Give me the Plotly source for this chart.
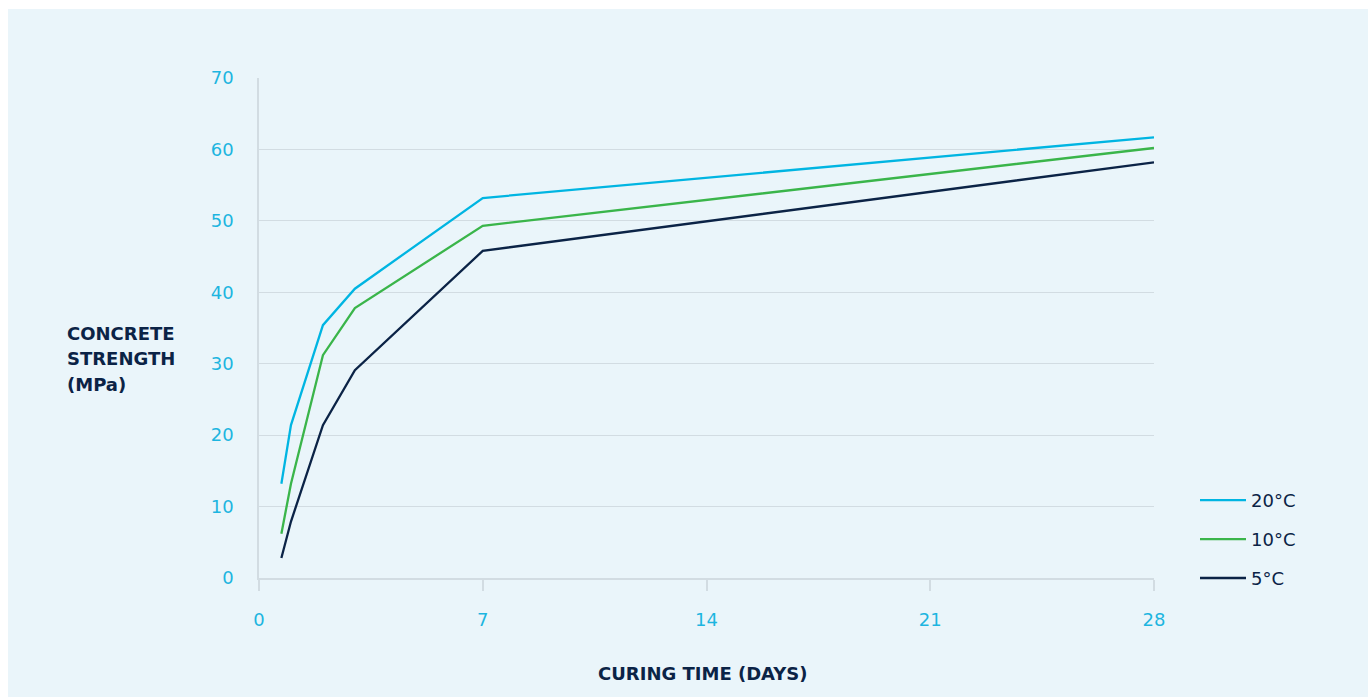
import plotly.graph_objects as go

# Curing age (days) and compressive strength (MPa) at three curing temperatures
days = [0.7, 1, 2, 3, 7, 28]
strength_20c = [13.2, 21.4, 35.4, 40.5, 53.2, 61.7]
strength_10c = [6.2, 13.2, 31.2, 37.8, 49.3, 60.2]
strength_5c = [2.8, 7.9, 21.4, 29.1, 45.8, 58.2]

series_names = ["20°C", "10°C", "5°C"]
series_colors = ["#00B5E2", "#3AB54A", "#0B2346"]

x_ticks = [0, 7, 14, 21, 28]
y_ticks = [0, 10, 20, 30, 40, 50, 60, 70]

y_title_lines = ["CONCRETE", "STRENGTH", "(MPa)"]
x_title = "CURING TIME (DAYS)"

W, H = 1372, 697
L, R, T, B = 259, 218, 78, 119
plot_w = W - L - R
plot_h = H - T - B

def px_x(p):
    return (p - L) / plot_w

def px_y(p):
    return (H - B - p) / plot_h

PANEL = "#EAF5FA"
GRID = "#D2DCE2"
TICK_COLOR = "#1DB5E0"
NAVY = "#0B2346"
FONT = "DejaVu Sans, Open Sans, sans-serif"

fig = go.Figure()
for i, (name, vals) in enumerate(zip(series_names, [strength_20c, strength_10c, strength_5c])):
    fig.add_trace(go.Scatter(
        x=days, y=vals, mode="lines", name=name,
        line=dict(color=series_colors[i], width=2.3),
        legendgroup=name,
    ))

# Left-aligned, three-line y-axis title
annotations = []
for line_text, yc in zip(y_title_lines, [333, 358.5, 384]):
    annotations.append(dict(
        text=f"<b>{line_text}</b>",
        xref="paper", yref="paper", x=px_x(65), y=px_y(yc),
        xanchor="left", yanchor="middle", align="left", showarrow=False,
        font=dict(size=18, color=NAVY, family=FONT),
    ))
annotations.append(dict(
    text=f"<b>{x_title}</b>",
    xref="paper", yref="paper", x=px_x(703), y=px_y(673),
    xanchor="center", yanchor="middle", showarrow=False,
    font=dict(size=18, color=NAVY, family=FONT),
))

fig.update_layout(
    width=W, height=H,
    margin=dict(l=L, r=R, t=T, b=B),
    paper_bgcolor="white",
    plot_bgcolor="rgba(0,0,0,0)",
    font=dict(family=FONT, color=NAVY),
    showlegend=True,
    legend=dict(
        x=px_x(1195), y=px_y(482), xanchor="left", yanchor="top",
        bgcolor="rgba(0,0,0,0)", borderwidth=0,
        font=dict(size=18, color=NAVY, family=FONT),
        traceorder="grouped", tracegroupgap=12.5,
        itemwidth=46,
    ),
    shapes=[dict(
        type="rect", xref="paper", yref="paper", layer="below",
        x0=px_x(8), x1=px_x(1368), y0=px_y(697), y1=px_y(9),
        fillcolor=PANEL, line=dict(width=0),
    )],
    annotations=annotations,
)

fig.update_xaxes(
    range=[0, 28], tickvals=x_ticks, ticktext=[str(v) for v in x_ticks],
    showgrid=False, zeroline=False,
    showline=True, linecolor=GRID, linewidth=1.5,
    ticks="outside", ticklen=11, tickcolor=GRID, tickwidth=1.5,
    tickfont=dict(size=18, color=TICK_COLOR, family=FONT),
    ticklabelstandoff=14,
)
fig.update_yaxes(
    range=[0, 70], tickvals=y_ticks, ticktext=[str(v) for v in y_ticks],
    showgrid=True, gridcolor=GRID, gridwidth=1.2,
    zeroline=False,
    showline=True, linecolor=GRID, linewidth=1.5,
    ticks="", tickfont=dict(size=18, color=TICK_COLOR, family=FONT),
    ticklabelstandoff=20,
)

fig.write_html("out.html")
